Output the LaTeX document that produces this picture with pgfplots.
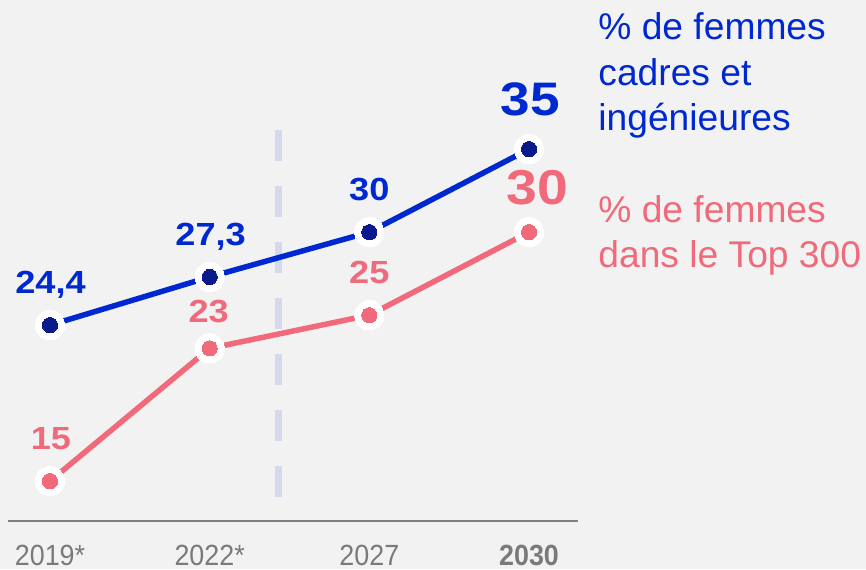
\documentclass[border=0pt]{standalone}
\usepackage{fontspec}
\setmainfont{Liberation Sans}
\newfontfamily\lblfont[FakeStretch=1.13]{Liberation Sans}
\newfontfamily\tickfont[FakeStretch=0.92]{Liberation Sans}
\usepackage{pgfplots}
\pgfplotsset{compat=1.18}
\definecolor{bgc}{HTML}{F2F2F2}
\definecolor{cblue}{HTML}{0028D0}
\definecolor{cdark}{HTML}{0A1A8C}
\definecolor{cpink}{HTML}{F06A7B}
\definecolor{cdash}{HTML}{D6D9EE}
\definecolor{axgrey}{HTML}{808080}
\definecolor{tgrey}{HTML}{7A7A7A}
\definecolor{leadgrey}{HTML}{A0A0A0}
\begin{document}
\begin{tikzpicture}
\fill[bgc] (0,0) rectangle (433pt,284.5pt);
\useasboundingbox (0,0) rectangle (433pt,284.5pt);
\begin{axis}[
  at={(4pt,24pt)}, anchor=south west,
  scale only axis, width=285pt, height=227.43pt,
  xmin=-0.2630, xmax=3.3068, ymin=12.6, ymax=40,
  axis x line*=bottom, axis y line=none,
  x axis line style={-, draw=axgrey, line width=0.75pt},
  xtick={0,1,2,3}, xticklabels={2019*,2022*,2027,{\bfseries 2030}},
  major tick length=0pt,
  xticklabel style={anchor=base, inner sep=0pt, yshift=-22.2pt, font=\tickfont\fontsize{14.6pt}{14.6pt}\selectfont, text=tgrey},
  ytick=\empty,
  clip=false,
]
\draw[cdash, line width=3.5pt, dash pattern=on 15.5pt off 12.5pt] (axis cs:1.434,36.15) -- (axis cs:1.434,14.04);

\addplot[cblue, line width=2.75pt, mark=none]
  coordinates {(0,24.4)(1,27.3)(2,30)(3,35)};
\addplot[only marks, mark=*, mark size=7.3pt, mark options={line width=0pt, draw=white, fill=white}]
  coordinates {(0,24.4)(1,27.3)(2,30)(3,35)};
\addplot[only marks, mark=*, mark size=3.8pt, mark options={line width=0pt, draw=cdark, fill=cdark}]
  coordinates {(0,24.4)(1,27.3)(2,30)(3,35)};

\addplot[cpink, line width=2.75pt, mark=none]
  coordinates {(0,15)(1,23)(2,25)(3,30)};
\addplot[only marks, mark=*, mark size=7.3pt, mark options={line width=0pt, draw=white, fill=white}]
  coordinates {(0,15)(1,23)(2,25)(3,30)};
\addplot[only marks, mark=*, mark size=3.8pt, mark options={line width=0pt, draw=cpink, fill=cpink}]
  coordinates {(0,15)(1,23)(2,25)(3,30)};

\draw[leadgrey, line width=0.5pt] (axis cs:0.986,23.80) -- (axis cs:0.996,23.07);

\node[anchor=base, inner sep=0pt, text=cblue, font=\lblfont\bfseries\fontsize{16pt}{16pt}\selectfont, xshift=0.25pt, yshift=16pt] at (axis cs:0,24.4) {24,4};
\node[anchor=base, inner sep=0pt, text=cblue, font=\lblfont\bfseries\fontsize{16pt}{16pt}\selectfont, xshift=0.5pt, yshift=15.75pt] at (axis cs:1,27.3) {27,3};
\node[anchor=base, inner sep=0pt, text=cblue, font=\lblfont\bfseries\fontsize{16pt}{16pt}\selectfont, xshift=0pt, yshift=15.75pt] at (axis cs:2,30) {30};
\node[anchor=base, inner sep=0pt, text=cblue, font=\lblfont\bfseries\fontsize{23.5pt}{23.5pt}\selectfont, xshift=0.5pt, yshift=16.85pt] at (axis cs:3,35) {35};

\node[anchor=base, inner sep=0pt, text=cpink, font=\lblfont\bfseries\fontsize{16pt}{16pt}\selectfont, xshift=0.5pt, yshift=16pt] at (axis cs:0,15) {15};
\node[anchor=base, inner sep=0pt, text=cpink, font=\lblfont\bfseries\fontsize{16pt}{16pt}\selectfont, xshift=-0.5pt, yshift=13pt] at (axis cs:1,23) {23};
\node[anchor=base, inner sep=0pt, text=cpink, font=\lblfont\bfseries\fontsize{16pt}{16pt}\selectfont, xshift=0pt, yshift=16pt] at (axis cs:2,25) {25};
\node[anchor=base, inner sep=0pt, text=cpink, font=\lblfont\bfseries\fontsize{24.5pt}{24.5pt}\selectfont, xshift=4pt, yshift=13.85pt] at (axis cs:3,30) {30};
\end{axis}

\begin{scope}[every node/.style={anchor=base west, inner sep=0pt, font=\fontsize{18.6pt}{18.6pt}\selectfont}]
\node[text=cblue] at (299pt,264.5pt) {\% de femmes};
\node[text=cblue] at (299pt,242pt) {cadres et};
\node[text=cblue] at (299pt,219.5pt) {ingénieures};
\node[text=cpink] at (299pt,173.25pt) {\% de femmes};
\node[text=cpink] at (299pt,151pt) {dans le Top 300};
\end{scope}
\end{tikzpicture}
\end{document}
